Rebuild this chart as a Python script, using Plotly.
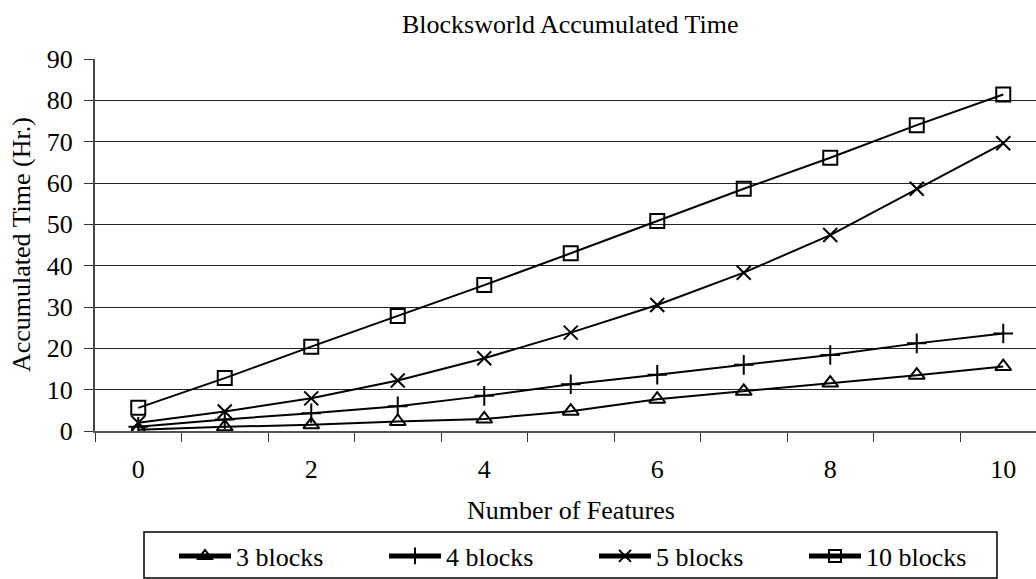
import plotly.graph_objects as go

# Accumulated planning time (hours) by number of features
features = list(range(11))
blocks_3 = [0.3, 1.0, 1.5, 2.3, 2.9, 4.8, 7.7, 9.6, 11.6, 13.5, 15.6]
blocks_4 = [1.0, 2.8, 4.3, 6.0, 8.5, 11.3, 13.6, 16.0, 18.4, 21.2, 23.6]
blocks_5 = [2.0, 4.7, 7.9, 12.2, 17.6, 23.8, 30.5, 38.3, 47.4, 58.6, 69.6]
blocks_10 = [5.6, 12.8, 20.4, 27.8, 35.3, 43.0, 50.8, 58.6, 66.1, 74.0, 81.4]

series = [
    ("3 blocks", blocks_3, "triangle-up-open"),
    ("4 blocks", blocks_4, "cross-thin-open"),
    ("5 blocks", blocks_5, "x-thin-open"),
    ("10 blocks", blocks_10, "square-open"),
]

x_ticks = [0, 2, 4, 6, 8, 10]
y_ticks = list(range(0, 91, 10))

W, H = 1036, 579
L, R, T, B = 95, 0, 59, 148
PW, PH = W - L - R, H - T - B
STEP = 86.5  # pixels per feature on the x axis
serif = "Liberation Serif"
FS = 26


def px_x(px):
    """Horizontal pixel position -> paper coordinate."""
    return (px - L) / PW


def px_y(py):
    """Vertical pixel position (from top) -> paper coordinate."""
    return (H - B - py) / PH


fig = go.Figure()
for name, vals, sym in series:
    fig.add_trace(go.Scatter(
        x=features, y=vals, name=name, mode="lines+markers",
        line=dict(color="black", width=2),
        marker=dict(symbol=sym, size=14, color="black",
                    line=dict(color="black", width=2)),
    ))

fig.update_layout(
    width=W, height=H,
    margin=dict(l=L, r=R, t=T, b=B, pad=0),
    paper_bgcolor="white", plot_bgcolor="white",
    font=dict(family=serif, size=FS, color="black"),
    showlegend=True,
    legend=dict(
        orientation="h", xref="container", yref="container",
        x=174 / W, y=1 - 556 / H, xanchor="left", yanchor="middle",
        bgcolor="rgba(0,0,0,0)", borderwidth=0,
        font=dict(family=serif, size=FS),
        itemwidth=52,
        entrywidth=143, entrywidthmode="pixels",
        itemsizing="constant", tracegroupgap=0,
    ),
    xaxis=dict(
        range=[-0.5, -0.5 + PW / STEP],
        tickvals=x_ticks, ticktext=[str(v) for v in x_ticks],
        ticks="", showgrid=False, zeroline=False,
        showline=True, linecolor="#555", linewidth=1.5,
        tickfont=dict(family=serif, size=FS),
        ticklabelstandoff=14,
        minor=dict(tickvals=[v - 0.5 for v in features], ticks="outside",
                   ticklen=9, tickcolor="#333", tickwidth=1, showgrid=False),
    ),
    yaxis=dict(
        range=[0, 90], tickvals=y_ticks,
        ticks="outside", ticklen=9, tickcolor="#333", tickwidth=1,
        showgrid=True, gridcolor="#222", gridwidth=1,
        zeroline=False, showline=True, linecolor="#444", linewidth=2,
        tickfont=dict(family=serif, size=FS),
        ticklabelstandoff=6,
    ),
    shapes=[
        # legend frame
        dict(type="rect", xref="paper", yref="paper",
             x0=px_x(144), x1=px_x(997), y0=px_y(578), y1=px_y(532),
             line=dict(color="black", width=1.5), fillcolor="rgba(0,0,0,0)",
             layer="above"),
    ],
    annotations=[
        dict(text="Blocksworld Accumulated Time", xref="paper", yref="paper",
             x=px_x(570.5), y=px_y(24), xanchor="center", yanchor="middle",
             showarrow=False, font=dict(family=serif, size=FS)),
        dict(text="Number of Features", xref="paper", yref="paper",
             x=px_x(570.5), y=px_y(510), xanchor="center", yanchor="middle",
             showarrow=False, font=dict(family=serif, size=FS)),
        dict(text="Accumulated Time (Hr.)", xref="paper", yref="paper",
             x=px_x(21), y=px_y(245), xanchor="center", yanchor="middle",
             textangle=-90, showarrow=False, font=dict(family=serif, size=FS)),
    ],
)

fig.write_html("out.html")
